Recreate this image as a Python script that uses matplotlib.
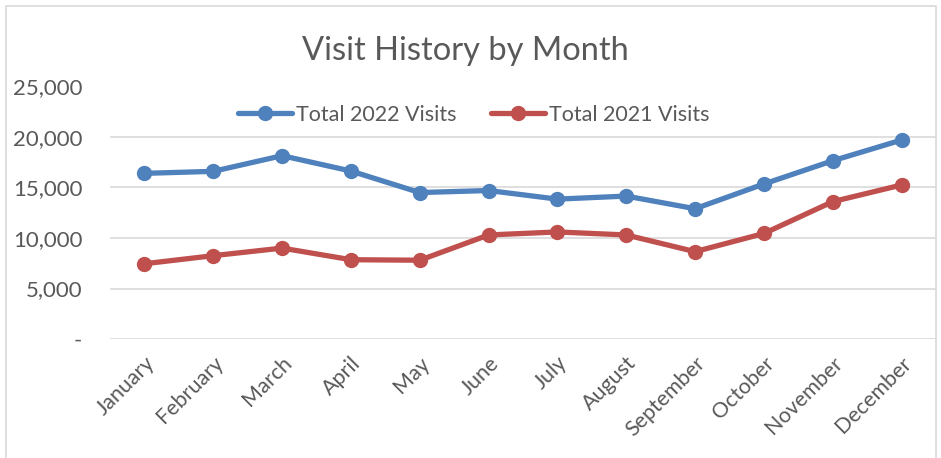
import matplotlib
matplotlib.use("Agg")
from matplotlib import pyplot as plt
from matplotlib.patches import Rectangle
from matplotlib.ticker import FuncFormatter

months = ["January", "February", "March", "April", "May", "June", "July",
          "August", "September", "October", "November", "December"]
visits_2022 = [16400, 16600, 18150, 16630, 14500, 14700, 13850, 14150,
               12900, 15350, 17650, 19700]
visits_2021 = [7450, 8250, 9000, 7850, 7800, 10300, 10600, 10300,
               8650, 10450, 13600, 15250]
yticks = [0, 5000, 10000, 15000, 20000, 25000]

plt.rcParams['font.family'] = ['Lato', 'DejaVu Sans']
txt = '#595959'
grid = '#D9D9D9'

fig = plt.figure(figsize=(9.41, 4.58), dpi=100)
ax = fig.add_axes([110/941, 1-339/458, 826/941, 252.5/458])

x = list(range(len(months)))
ax.plot(x, visits_2022, color='#4F81BD', lw=3.8, marker='o', ms=10,
        solid_capstyle='round', label='Total 2022 Visits')
ax.plot(x, visits_2021, color='#C0504D', lw=3.8, marker='o', ms=10,
        solid_capstyle='round', label='Total 2021 Visits')

ax.set_xlim(-0.5, 11.5)
ax.set_ylim(0, 25000)
ax.set_yticks(yticks)
ax.yaxis.set_major_formatter(FuncFormatter(lambda v, p: '-' if v == 0 else f'{int(v):,}'))
ax.set_xticks(x)
ax.set_xticklabels(months, rotation=45, ha='right', rotation_mode='anchor')
ax.tick_params(axis='both', length=0, colors=txt, labelsize=16)
ax.tick_params(axis='y', pad=20)
ax.tick_params(axis='x', labelsize=15.5, pad=10)
ax.grid(axis='y', color=grid, lw=1.2)
ax.set_axisbelow(True)
for s in ax.spines.values():
    s.set_visible(False)

fig.text(465/941, 1-51/458, 'Visit History by Month', ha='center', va='center',
         fontsize=23.5, color=txt)
fig.legend(loc='center', bbox_to_anchor=(474/941, 1-115/458), ncol=2,
           frameon=False, fontsize=15.5, labelcolor=txt, handlelength=2.5,
           handletextpad=0.2, columnspacing=1.6)

fig.add_artist(Rectangle((6/941, -0.05), 930/941, 1.05-6/458, transform=fig.transFigure,
                         fill=False, edgecolor=grid, lw=1.2))

fig.savefig('out.png', dpi=100)
